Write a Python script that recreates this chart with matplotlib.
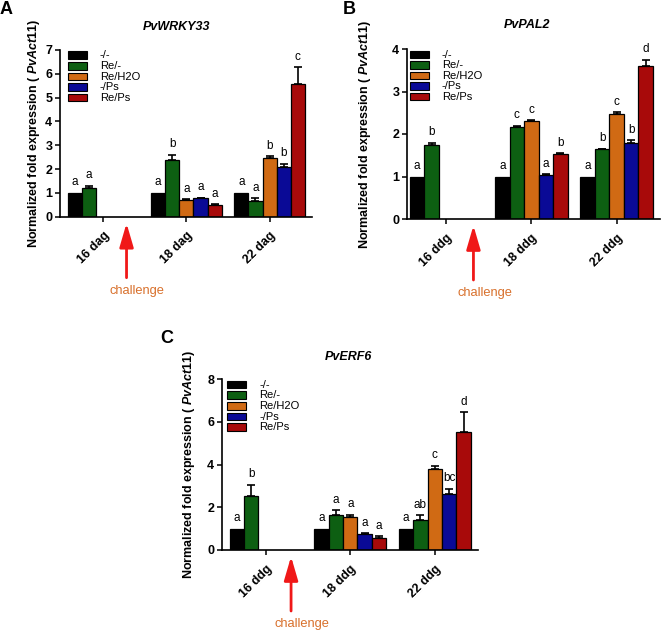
import numpy as np
import matplotlib
matplotlib.use('Agg')
import matplotlib.pyplot as plt
from matplotlib.patches import Rectangle

plt.rcParams['font.family'] = ['Liberation Sans', 'DejaVu Sans']
plt.rcParams['mathtext.fontset'] = 'custom'
plt.rcParams['mathtext.rm'] = 'Liberation Sans:bold'
plt.rcParams['mathtext.it'] = 'Liberation Sans:bold:italic'

nan = np.nan

treatments = ['-/-', 'Re/-', 'Re/H2O', '-/Ps', 'Re/Ps']
bar_colors = ['#000000', '#0d5f12', '#d06a14', '#0a0a96', '#a80a0a']

days_dag = ['16 dag', '18 dag', '22 dag']
days_ddg = ['16 ddg', '18 ddg', '22 ddg']

# rows = treatments, columns = days
wrky33_mean = [[1.0, 1.0, 1.0],
               [1.22, 2.38, 0.68],
               [nan, 0.70, 2.46],
               [nan, 0.77, 2.07],
               [nan, 0.49, 5.58]]
wrky33_err = [[0, 0, 0],
              [0.08, 0.22, 0.09],
              [nan, 0.03, 0.09],
              [nan, 0.02, 0.16],
              [nan, 0.03, 0.70]]
wrky33_sig = [['a', 'a', 'a'],
              ['a', 'b', 'a'],
              [None, 'a', 'b'],
              [None, 'a', 'b'],
              [None, 'a', 'c']]

pal2_mean = [[1.0, 1.0, 1.0],
             [1.74, 2.17, 1.64],
             [nan, 2.31, 2.47],
             [nan, 1.04, 1.79],
             [nan, 1.53, 3.61]]
pal2_err = [[0, 0, 0],
            [0.06, 0.02, 0.01],
            [nan, 0.02, 0.04],
            [nan, 0.01, 0.07],
            [nan, 0.02, 0.14]]
pal2_sig = [['a', 'a', 'a'],
            ['b', 'c', 'b'],
            [None, 'c', 'c'],
            [None, 'a', 'b'],
            [None, 'b', 'd']]

erf6_mean = [[1.0, 1.0, 1.0],
             [2.55, 1.63, 1.42],
             [nan, 1.53, 3.80],
             [nan, 0.75, 2.64],
             [nan, 0.58, 5.53]]
erf6_err = [[0, 0, 0],
            [0.50, 0.23, 0.22],
            [nan, 0.12, 0.15],
            [nan, 0.04, 0.24],
            [nan, 0.07, 0.94]]
erf6_sig = [['a', 'a', 'a'],
            ['b', 'a', 'ab'],
            [None, 'a', 'c'],
            [None, 'a', 'bc'],
            [None, 'a', 'd']]

W, H = 661, 633
fig = plt.figure(figsize=(W / 100, H / 100), dpi=100)


def px_axes(l, t, r, b):
    # pixel box -> figure fraction
    return fig.add_axes([l / W, 1 - b / H, (r - l) / W, (b - t) / H])


def draw_legend(ax, dx_px, w_px, h_px):
    # hand-made legend: tight rows like the original GraphPad figure
    step = 10.6
    for k, (name, c) in enumerate(zip(treatments, bar_colors)):
        top = 1.5 + k * step
        ax.add_patch(Rectangle((dx_px / w_px, 1 - (top + 7.5) / h_px),
                               19 / w_px, 7.5 / h_px, transform=ax.transAxes,
                               facecolor=c, edgecolor='black', linewidth=0.8,
                               clip_on=False, zorder=4))
        ax.text((dx_px + 32) / w_px, 1 - (top + 4) / h_px, name,
                transform=ax.transAxes, ha='left', va='center', fontsize=8)


def draw_panel(ax, title, days, mean, err, sig, ymax, ystep, xlim,
               arrow_x, legend_dx, w_px, h_px, label_x, title_xy,
               letter, letter_xy):
    mean = np.array(mean, dtype=float)
    err = np.array(err, dtype=float)
    x = np.arange(len(days))
    w = 0.17
    for i, name in enumerate(treatments):
        xs = x + (i - 2) * w
        ok = ~np.isnan(mean[i])
        ax.bar(xs[ok], mean[i][ok], width=w, color=bar_colors[i],
               edgecolor='black', linewidth=0.9, label=name, zorder=2)
        has_err = ok & (err[i] > 0)
        if has_err.any():
            ax.errorbar(xs[has_err], mean[i][has_err],
                        yerr=[np.zeros(has_err.sum()), err[i][has_err]],
                        fmt='none', ecolor='black', elinewidth=1.2,
                        capsize=3, capthick=1.2, zorder=3)
        for j in range(len(days)):
            if sig[i][j] is None:
                continue
            top = mean[i][j] + (err[i][j] if err[i][j] > 0 else 0)
            ax.annotate(sig[i][j], (xs[j], top), xytext=(0, 3.2),
                        textcoords='offset points', ha='center', va='bottom',
                        fontsize=8.5)

    ax.set_xlim(*xlim)
    ax.set_ylim(0, ymax)
    ax.set_yticks(np.arange(0, ymax + 0.01, ystep))
    ax.set_xticks(x)
    ax.set_xticklabels(days, rotation=45, ha='right', rotation_mode='anchor',
                       fontweight='bold', fontsize=9)
    for lab in ax.get_yticklabels():
        lab.set_fontweight('bold')
        lab.set_fontsize(9)
    ax.tick_params(direction='out', length=3.5, width=1.1, pad=2)
    ax.tick_params(axis='x', pad=6)
    for s in ['top', 'right']:
        ax.spines[s].set_visible(False)
    for s in ['left', 'bottom']:
        ax.spines[s].set_linewidth(1.2)
    ax.set_ylabel('Normalized fold expression ( $\\mathit{PvAct11}$)',
                  fontweight='bold', fontsize=9)
    ax.yaxis.set_label_coords(label_x, 0.5)

    draw_legend(ax, legend_dx, w_px, h_px)

    # challenge arrow below the axis
    trans = ax.get_xaxis_transform()
    ax.annotate('', xy=(arrow_x, -6.5 / h_px), xycoords=trans,
                xytext=(arrow_x, -61 / h_px), textcoords=trans,
                arrowprops=dict(arrowstyle='-|>,head_width=0.35,head_length=1.2',
                                color='#f01818', lw=2, shrinkA=0, shrinkB=0,
                                mutation_scale=12))
    ax.text(arrow_x + 0.13, -74 / h_px, 'challenge', transform=trans,
            ha='center', va='center', fontsize=9.3, color='#d8702c')

    fig.text(title_xy[0] / W, 1 - title_xy[1] / H, title, ha='center',
             va='center', fontsize=9, fontweight='bold', fontstyle='italic')
    fig.text(letter_xy[0] / W, 1 - letter_xy[1] / H, letter, ha='left',
             va='top', fontsize=13, fontweight='bold')


ax_a = px_axes(60, 50, 312, 216.7)
draw_panel(ax_a, 'PvWRKY33', days_dag, wrky33_mean, wrky33_err, wrky33_sig,
           7, 1, (-0.52, 2.51), 0.28, 8, 252, 166.7, -0.071,
           (177, 27), 'A', (0, 1))

ax_b = px_axes(407, 49, 660, 219)
draw_panel(ax_b, 'PvPAL2', days_ddg, pal2_mean, pal2_err, pal2_sig,
           4, 1, (-0.46, 2.51), 0.32, 3, 253, 170, -0.135,
           (527, 25), 'B', (343, 1))

ax_c = px_axes(221.7, 379.3, 478, 550)
draw_panel(ax_c, 'PvERF6', days_ddg, erf6_mean, erf6_err, erf6_sig,
           8, 2, (-0.52, 2.51), 0.30, 5.6, 256.3, 170.7, -0.096,
           (348, 357), 'C', (160, 330))

fig.savefig('out.png', dpi=100)
